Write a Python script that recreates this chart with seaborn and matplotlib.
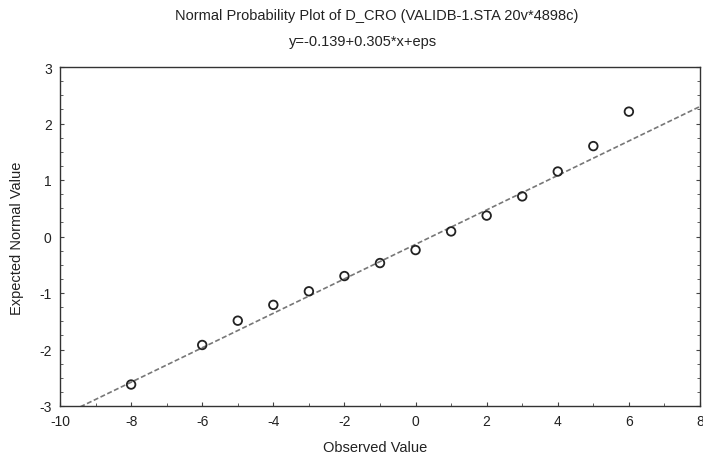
import numpy as np
import pandas as pd
import matplotlib
matplotlib.use("Agg")
import matplotlib.pyplot as plt
import seaborn as sns
from matplotlib.ticker import MultipleLocator

# Data
observed = [-8, -6, -5, -4, -3, -2, -1, 0, 1, 2, 3, 4, 5, 6]
expected = [-2.62, -1.92, -1.49, -1.21, -0.97, -0.70, -0.47, -0.24, 0.09, 0.37, 0.71, 1.15, 1.60, 2.21]
intercept = -0.139
slope = 0.305
x_ticks = [-10, -8, -6, -4, -2, 0, 2, 4, 6, 8]
y_ticks = [-3, -2, -1, 0, 1, 2, 3]
title1 = "Normal Probability Plot of D_CRO (VALIDB-1.STA 20v*4898c)"
title2 = "y=-0.139+0.305*x+eps"

sns.set_theme(style="white")
plt.rcParams['font.family'] = ['Liberation Sans', 'DejaVu Sans']
plt.rcParams['axes.unicode_minus'] = False

fig = plt.figure(figsize=(7.03, 4.6), dpi=100)
ax = fig.add_axes([60/703, 1-407/460, 640/703, 339/460])

df = pd.DataFrame({"Observed": observed, "Expected": expected})
line_x = np.linspace(-10, 8, 200)
line_df = pd.DataFrame({"x": line_x, "y": intercept + slope * line_x})

sns.lineplot(data=line_df, x="x", y="y", ax=ax, color="#777777",
             linestyle=(0, (3, 1.5)), linewidth=1.2)
sns.scatterplot(data=df, x="Observed", y="Expected", ax=ax, marker="o",
                s=38, facecolor="none", edgecolor="#222222", linewidth=1.3, zorder=3)

ax.set_xlim(-10, 8)
ax.set_ylim(-3, 3)
ax.set_xticks(x_ticks)
ax.set_yticks(y_ticks)
ax.xaxis.set_minor_locator(MultipleLocator(1))
ax.yaxis.set_minor_locator(MultipleLocator(0.25))
ax.tick_params(axis="both", which="both", direction="in", color="#444444",
               left=True, bottom=True, right=True, top=False)
ax.tick_params(axis="both", which="major", length=3, width=0.8, labelsize=10,
               labelcolor="#222222", pad=6)
ax.tick_params(axis="both", which="minor", length=2, width=0.6)
for s in ax.spines.values():
    s.set_color("#333333")
    s.set_linewidth(1.0)

ax.set_xlabel("")
ax.set_ylabel("")
fig.text(375/703, 1-448/460, "Observed Value", ha="center", va="center",
         fontsize=10.5, color="#222222")
fig.text(17/703, 1-238/460, "Expected Normal Value", ha="center", va="center",
         rotation=90, fontsize=10.5, color="#222222")
fig.text(377/703, 1-16/460, title1, ha="center", va="center", fontsize=10.5, color="#222222")
fig.text(363/703, 1-42/460, title2, ha="center", va="center", fontsize=10.5, color="#222222")

fig.savefig("out.png", dpi=100, facecolor="white")
